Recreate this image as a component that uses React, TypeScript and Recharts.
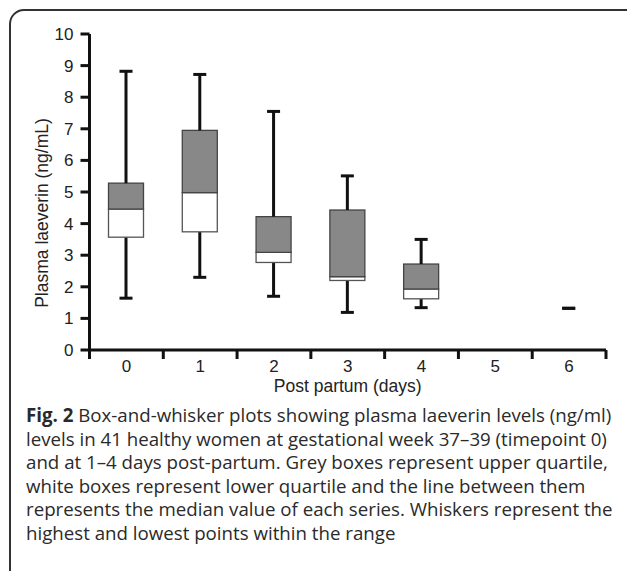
import React from "react";
import { Bar, ComposedChart, Label, XAxis, YAxis } from "recharts";

const categories = ["0", "1", "2", "3", "4", "5", "6"];
const lowValues = [1.64, 2.3, 1.7, 1.19, 1.34, null, 1.32];
const q1Values = [3.57, 3.74, 2.77, 2.2, 1.62, null, 1.32];
const medianValues = [4.46, 4.98, 3.09, 2.32, 1.93, null, 1.32];
const q3Values = [5.28, 6.95, 4.22, 4.43, 2.72, null, 1.32];
const highValues = [8.82, 8.72, 7.55, 5.51, 3.5, null, 1.32];
const yTicks = [0, 1, 2, 3, 4, 5, 6, 7, 8, 9, 10];

const captionLines = [
  "Box-and-whisker plots showing plasma laeverin levels (ng/ml)",
  "levels in 41 healthy women at gestational week 37\u201339 (timepoint 0)",
  "and at 1\u20134 days post-partum. Grey boxes represent upper quartile,",
  "white boxes represent lower quartile and the line between them",
  "represents the median value of each series. Whiskers represent the",
  "highest and lowest points within the range",
];

const data = categories.map((label, i) => {
  const low = lowValues[i];
  const q1 = q1Values[i];
  const med = medianValues[i];
  const q3 = q3Values[i];
  const high = highValues[i];
  const has = high !== null;
  return {
    pos: i + 0.5,
    label,
    has,
    base: has ? low : null,
    lowerWhisker: has ? (q1 as number) - (low as number) : null,
    lowerBox: has ? (med as number) - (q1 as number) : null,
    upperBox: has ? (q3 as number) - (med as number) : null,
    upperWhisker: has ? (high as number) - (q3 as number) : null,
  };
});

const xTicks = Array.from({ length: 15 }, (_, i) => i / 2);

const FONT = "'Liberation Sans', Arial, sans-serif";
const CAP = 13;

function LowerWhisker(props: any) {
  const { x, y, width, height, payload } = props;
  if (!payload || !payload.has) return null;
  const cx = x + width / 2;
  const bottom = y + height;
  return (
    <g>
      <line x1={cx} x2={cx} y1={y} y2={bottom} stroke="#111" strokeWidth={3} />
      <line x1={cx - CAP / 2} x2={cx + CAP / 2} y1={bottom} y2={bottom} stroke="#111" strokeWidth={3} />
    </g>
  );
}

function UpperWhisker(props: any) {
  const { x, y, width, height, payload } = props;
  if (!payload || !payload.has) return null;
  const cx = x + width / 2;
  return (
    <g>
      <line x1={cx} x2={cx} y1={y} y2={y + height} stroke="#111" strokeWidth={3} />
      <line x1={cx - CAP / 2} x2={cx + CAP / 2} y1={y} y2={y} stroke="#111" strokeWidth={3} />
    </g>
  );
}

function BoxShape(fill: string, stroke: string) {
  return (props: any) => {
    const { x, y, width, height, payload } = props;
    if (!payload || !payload.has || !(height > 0)) return null;
    return <rect x={x} y={y} width={width} height={height} fill={fill} stroke={stroke} strokeWidth={1.3} />;
  };
}

function XTick(props: any) {
  const { x, y, payload } = props;
  const v = payload.value;
  if (Number.isInteger(v)) {
    return <line x1={x} x2={x} y1={y} y2={y + 9} stroke="#111" strokeWidth={3} />;
  }
  return (
    <text x={x} y={y + 22} textAnchor="middle" fill="#222" fontSize={17} fontFamily={FONT}>
      {categories[Math.floor(v)]}
    </text>
  );
}

export default function App() {
  return (
    <div style={{ position: "absolute", left: 0, top: 0, width: 627, height: 571, overflow: "hidden", background: "#fff" }}>
      <div
        style={{
          position: "absolute",
          left: 9,
          top: 9,
          width: 640,
          height: 600,
          border: "2px solid #333",
          borderRadius: 15,
        }}
      />
      <div style={{ position: "absolute", left: 0, top: 0 }}>
        <ComposedChart width={627} height={400} data={data} margin={{ top: 34, right: 21, left: 0, bottom: 0 }}>
          <XAxis
            dataKey="pos"
            type="number"
            domain={[0, 7]}
            ticks={xTicks}
            interval={0}
            tick={<XTick />}
            tickLine={false}
            tickSize={0}
            tickMargin={0}
            height={50}
            axisLine={{ stroke: "#111", strokeWidth: 3 }}
          >
            <Label
              content={(p: any) => {
                const vb = p.viewBox;
                return (
                  <text x={vb.x + vb.width / 2} y={vb.y + 42} textAnchor="middle" fill="#222" fontSize={17.5} fontFamily={FONT}>
                    Post partum (days)
                  </text>
                );
              }}
            />
          </XAxis>
          <YAxis
            type="number"
            domain={[0, 10]}
            ticks={yTicks}
            interval={0}
            width={89.5}
            tickSize={9}
            tickMargin={7}
            tick={{ fill: "#222", fontSize: 17, fontFamily: FONT }}
            tickLine={{ stroke: "#111", strokeWidth: 3 }}
            axisLine={{ stroke: "#111", strokeWidth: 3 }}
          >
            <Label
              content={(p: any) => {
                const vb = p.viewBox;
                const cx = vb.x + 42;
                const cy = vb.y + vb.height / 2 + 21;
                return (
                  <text
                    x={cx}
                    y={cy}
                    transform={`rotate(-90 ${cx} ${cy})`}
                    textAnchor="middle"
                    dominantBaseline="central"
                    fill="#222"
                    fontSize={17.5}
                    fontFamily={FONT}
                  >
                    Plasma laeverin (ng/mL)
                  </text>
                );
              }}
            />
          </YAxis>
          <Bar dataKey="base" stackId="box" barSize={35} fill="none" isAnimationActive={false} shape={() => null} />
          <Bar dataKey="lowerWhisker" stackId="box" barSize={35} isAnimationActive={false} shape={LowerWhisker} />
          <Bar dataKey="lowerBox" stackId="box" barSize={35} isAnimationActive={false} shape={BoxShape("#ffffff", "#555")} />
          <Bar dataKey="upperBox" stackId="box" barSize={35} isAnimationActive={false} shape={BoxShape("#888888", "#444")} />
          <Bar dataKey="upperWhisker" stackId="box" barSize={35} isAnimationActive={false} shape={UpperWhisker} />
        </ComposedChart>
      </div>
      <div
        style={{
          position: "absolute",
          left: 26,
          top: 403,
          fontFamily: "'Open Sans', 'Noto Sans', sans-serif",
          fontSize: 18.7,
          lineHeight: "23.6px",
          color: "#2a2a2a",
          whiteSpace: "nowrap",
        }}
      >
        {captionLines.map((line, i) => (
          <div key={i}>
            {i === 0 && <b>Fig. 2 </b>}
            {line}
          </div>
        ))}
      </div>
    </div>
  );
}
